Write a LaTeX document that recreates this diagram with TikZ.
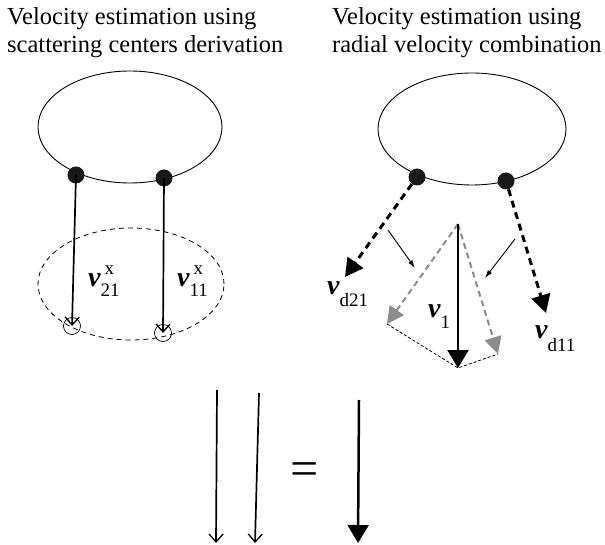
\documentclass[tikz,border=0pt]{standalone}
\usepackage{fontspec}
\setmainfont{Liberation Serif}
\usetikzlibrary{arrows.meta,shapes.geometric}
\newcommand{\vsym}{{\fontsize{28}{28}\selectfont\bfseries\itshape v}}
\newcommand{\subf}{\fontsize{19}{19}\selectfont}
\begin{document}
\begin{tikzpicture}[x=1pt,y=-1pt,
  title/.style={anchor=base west,inner sep=0pt,font=\fontsize{24.5}{28}\selectfont},
  lab/.style={anchor=base west,inner sep=0pt},
  body/.style={draw,ellipse,line width=0.9pt,inner sep=0pt},
  ghost/.style={draw,ellipse,line width=0.8pt,dash pattern=on 5pt off 4pt,inner sep=0pt},
  dot/.style={circle,fill=black!90,inner sep=0pt,minimum size=17pt},
  ring/.style={circle,draw,line width=0.7pt,inner sep=0pt,minimum size=17pt},
  barb/.style={line width=1.7pt,-{Straight Barb[length=8pt,width=14pt,line width=1.3pt]}},
  dasharrow/.style={line width=3pt,dash pattern=on 7pt off 5pt,-{Triangle[length=18pt,width=19pt]}},
  grayarrow/.style={draw=black!45,line width=2pt,dash pattern=on 6pt off 4pt,-{Triangle[length=17pt,width=17pt,fill=black!45]}},
  thinarrow/.style={line width=0.9pt,-{Latex[length=8pt,width=5pt]}},
  solidtri/.style={line width=2.5pt,-{Triangle[length=18pt,width=21pt]}},
  thindash/.style={line width=0.8pt,dash pattern=on 3pt off 2pt}]
\useasboundingbox (0,0) rectangle (605,545);
% titles
\node[title] (t1a) at (7,25) {Velocity estimation using};
\node[title] (t1b) at (7,53) {scattering centers derivation};
\node[title] (t2a) at (332,25) {Velocity estimation using};
\node[title] (t2b) at (332,53) {radial velocity combination};
% left figure
\node[body,minimum width=184pt,minimum height=112pt] (E1) at (130,127) {};
\node[ghost,minimum width=186pt,minimum height=112pt] (G1) at (131,284) {};
\node[dot] (L1) at (76,175) {};
\node[dot] (L2) at (164,178) {};
\node[ring] (C1) at (72,326) {};
\node[ring] (C2) at (163,333) {};
\draw[barb] (L1.center) -- (C1.center);
\draw[barb] (L2.center) -- (C2.center);
\node[lab] (v21) at (88,287) {\vsym\makebox[0pt][l]{\hspace{4pt}\raisebox{12pt}{\subf x}}\raisebox{-10pt}{\subf 21}};
\node[lab] (v11) at (177,287) {\vsym\makebox[0pt][l]{\hspace{4pt}\raisebox{12pt}{\subf x}}\raisebox{-10pt}{\subf 11}};
% right figure
\node[body,minimum width=188pt,minimum height=112pt] (E2) at (472,129) {};
\node[dot] (R1) at (417,177) {};
\node[dot] (R2) at (506,181) {};
\coordinate (T21) at (345,277);
\coordinate (T11) at (546,313);
\draw[dasharrow] (R1) -- (T21);
\draw[dasharrow] (R2) -- (T11);
\coordinate (A) at (458,224);
\coordinate (B) at (458,368);
\coordinate (GL) at (387,324);
\coordinate (GR) at (498,354);
\draw[grayarrow] (A) -- (GL);
\draw[grayarrow] (A) -- (GR);
\draw[thindash] (GL) -- (B) -- (GR);
\draw[solidtri] (A) -- (B);
\coordinate (s1) at (388,230);
\coordinate (e1) at (415,268);
\coordinate (s2) at (515,239);
\coordinate (e2) at (485,278);
\draw[thinarrow] (s1) -- (e1);
\draw[thinarrow] (s2) -- (e2);
\node[lab] (vd21) at (327,295) {\vsym\raisebox{-12pt}{\subf d21}};
\node[lab] (v1) at (428,318) {\vsym\raisebox{-10pt}{\subf 1}};
\node[lab] (vd11) at (535,338) {\vsym\raisebox{-13pt}{\subf d11}};
% bottom
\coordinate (b1s) at (217,390);
\coordinate (b1e) at (216,543);
\coordinate (b2s) at (259,393);
\coordinate (b2e) at (255,543);
\coordinate (b3s) at (359,400);
\coordinate (b3e) at (358,543);
\draw[barb] (b1s) -- (b1e);
\draw[barb] (b2s) -- (b2e);
\draw[solidtri] (b3s) -- (b3e);
\node[inner sep=0pt,font=\fontsize{50}{50}\selectfont] (eq) at (305,474) {=};
\end{tikzpicture}
\end{document}
